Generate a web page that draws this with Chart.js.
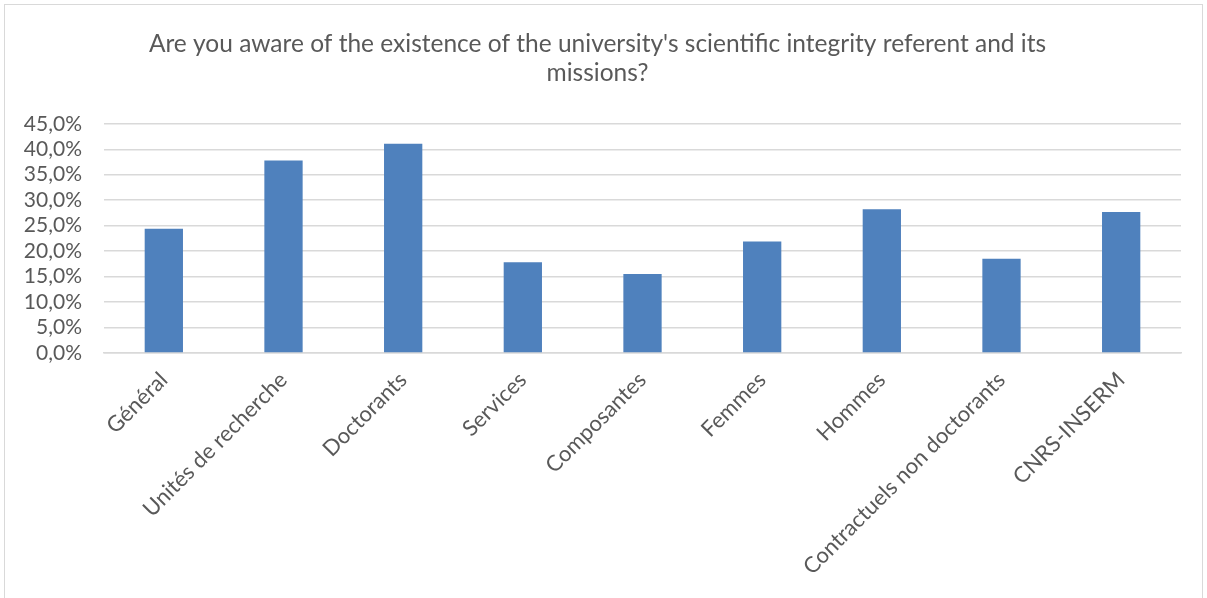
<!DOCTYPE html>
<html>
<head>
<meta charset="utf-8">
<script src="https://cdn.jsdelivr.net/npm/chart.js@4"></script>
<style>
  body { margin: 0; background: #fff; }
  #box { position: absolute; left: 4px; top: 4px; width: 1199px; height: 600px; border: 1px solid #d9d9d9; box-sizing: border-box; }
  #wrap { position: absolute; left: 0; top: 0; width: 1207px; height: 598px; }
</style>
</head>
<body>
<div id="box"></div>
<div id="wrap"><canvas id="chart"></canvas></div>
<script>
// données
const categories = ['Général', 'Unités de recherche', 'Doctorants', 'Services', 'Composantes',
  'Femmes', 'Hommes', 'Contractuels non doctorants', 'CNRS-INSERM'];
const values = [24.4, 37.8, 41.1, 17.8, 15.5, 21.9, 28.2, 18.5, 27.7];
const titleLines = ["Are you aware of the existence of the university's scientific integrity referent and its", 'missions?'];

const fontFamily = 'Lato, "Open Sans", sans-serif';
const textColor = '#595959';

const ctx = document.getElementById('chart').getContext('2d');
const chart = new Chart(ctx, {
  type: 'bar',
  data: {
    labels: categories,
    datasets: [{
      data: values,
      backgroundColor: '#4f81bd',
      borderWidth: 0,
      barPercentage: 0.32,
      categoryPercentage: 1
    }]
  },
  options: {
    responsive: true,
    maintainAspectRatio: false,
    animation: false,
    layout: { padding: { left: 14, right: 26, top: 29, bottom: 0 } },
    plugins: {
      legend: { display: false },
      tooltip: { enabled: false },
      title: {
        display: true,
        text: titleLines,
        color: textColor,
        font: { family: fontFamily, size: 24.5, weight: 'normal' },
        lineHeight: 1.3,
        padding: { top: 0, bottom: 36 }
      }
    },
    scales: {
      y: {
        min: 0,
        max: 45,
        ticks: {
          stepSize: 5,
          autoSkip: false,
          color: textColor,
          font: { family: fontFamily, size: 21 },
          padding: 22,
          callback: v => v.toFixed(1).replace('.', ',') + '%'
        },
        grid: { color: '#d9d9d9', lineWidth: 1.5, drawTicks: false },
        border: { display: false },
        afterFit: s => { s.width = 90; }
      },
      x: {
        ticks: {
          color: textColor,
          font: { family: fontFamily, size: 22 },
          minRotation: 45,
          maxRotation: 45,
          autoSkip: false,
          padding: 6
        },
        grid: { display: false },
        border: { color: '#d9d9d9', width: 1.5 },
        afterFit: s => { s.height = 245; }
      }
    }
  }
});
</script>
</body>
</html>
